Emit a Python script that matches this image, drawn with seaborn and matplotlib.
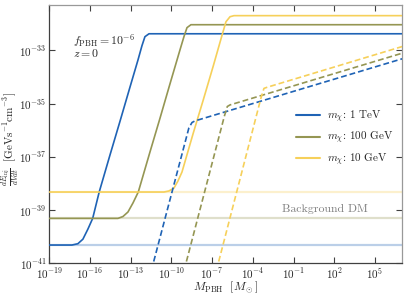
import numpy as np
import pandas as pd
import matplotlib
matplotlib.use("Agg")
import matplotlib.pyplot as plt
from matplotlib.lines import Line2D
import seaborn as sns

# ---------------- data (log10 values) ----------------
labels = [r"$m_\chi$: 1 TeV", r"$m_\chi$: 100 GeV", r"$m_\chi$: 10 GeV"]
colors = ["#1f63b5", "#959653", "#f6d05a"]

# background DM injection level per mass (log10 GeV s^-1 cm^-3)
bg_log = [-40.31, -39.31, -38.32]

# solid curves
blue_solid_logM = [-19.0, -17.33, -16.89, -16.52, -16.15, -15.80, -15.32, -14.53,
                   -13.79, -13.05, -12.46, -12.17, -11.95, -11.65, 7.0]
blue_solid_logE = [-40.31, -40.31, -40.26, -40.09, -39.71, -39.31, -38.32, -36.94,
                   -35.67, -34.38, -33.36, -32.83, -32.49, -32.38, -32.38]

olive_solid_logM = [-19.0, -13.94, -13.57, -13.20, -12.83, -12.44, -11.58, -10.84,
                    -10.11, -9.37, -9.07, -8.85, -8.56, 7.0]
olive_solid_logE = [-39.31, -39.31, -39.24, -39.07, -38.73, -38.32, -36.82, -35.55,
                    -34.27, -32.99, -32.48, -32.15, -32.04, -32.04]

yellow_solid_logM = [-19.0, -10.55, -10.18, -9.81, -9.52, -9.22, -8.39, -7.65,
                     -6.91, -6.30, -5.98, -5.68, -5.39, 7.0]
yellow_solid_logE = [-38.32, -38.32, -38.28, -38.17, -37.91, -37.57, -36.11, -34.86,
                     -33.58, -32.49, -31.93, -31.74, -31.70, -31.70]

# dashed curves
blue_dash_logM = [-11.46, -11.34, -8.71, -8.48, -8.26, 7.0]
blue_dash_logE = [-41.25, -41.0, -35.91, -35.71, -35.65, -33.32]

olive_dash_logM = [-9.06, -8.93, -6.09, -5.88, -5.68, 7.0]
olive_dash_logE = [-41.25, -41.0, -35.46, -35.11, -35.05, -33.11]

yellow_dash_logM = [-6.68, -6.55, -3.40, -3.18, -2.96, 7.0]
yellow_dash_logE = [-41.25, -41.0, -34.79, -34.43, -34.39, -32.86]

xtick_exps = [-19, -16, -13, -10, -7, -4, -1, 2, 5]
ytick_exps = [-41, -39, -37, -35, -33]

# ---------------- style ----------------
sns.set_theme(style="ticks")
plt.rcParams["font.family"] = ["cmr10", "DejaVu Serif"]
plt.rcParams["mathtext.fontset"] = "cm"
plt.rcParams["axes.formatter.use_mathtext"] = True
plt.rcParams["axes.unicode_minus"] = False

fig = plt.figure(figsize=(4.07, 2.94), dpi=100)
ax = fig.add_axes([0.121, 0.104, 0.867, 0.879])

solids = [(blue_solid_logM, blue_solid_logE),
          (olive_solid_logM, olive_solid_logE),
          (yellow_solid_logM, yellow_solid_logE)]
dashes = [(blue_dash_logM, blue_dash_logE),
          (olive_dash_logM, olive_dash_logE),
          (yellow_dash_logM, yellow_dash_logE)]

# background DM lines (faded, full width)
for b, c in zip(bg_log, colors):
    ax.axhline(10.0 ** b, color=c, alpha=0.3, lw=1.6, zorder=1)

for (lm, le), c in zip(solids, colors):
    df = pd.DataFrame({"M": 10.0 ** np.array(lm), "E": 10.0 ** np.array(le)})
    sns.lineplot(data=df, x="M", y="E", ax=ax, color=c, lw=1.2, sort=False,
                 estimator=None, zorder=3)

for (lm, le), c in zip(dashes, colors):
    df = pd.DataFrame({"M": 10.0 ** np.array(lm), "E": 10.0 ** np.array(le)})
    sns.lineplot(data=df, x="M", y="E", ax=ax, color=c, lw=1.2, sort=False,
                 estimator=None, linestyle=(0, (3.5, 1.8)), zorder=3)

ax.set_xscale("log")
ax.set_yscale("log")
ax.set_xlim(1e-19, 1e7)
ax.set_ylim(1e-41, 10 ** -31.3)

ax.set_xticks([10.0 ** e for e in xtick_exps])
ax.set_xticklabels([r"$10^{%d}$" % e for e in xtick_exps])
ax.set_yticks([10.0 ** e for e in ytick_exps])
ax.set_yticklabels([r"$10^{%d}$" % e for e in ytick_exps])
ax.minorticks_off()
ax.tick_params(which="both", direction="in", top=True, right=True,
               length=4, width=0.8, labelsize=8, pad=2, color="0.25")

for s in ["left", "bottom"]:
    ax.spines[s].set_color("0.25")
    ax.spines[s].set_linewidth(0.9)
for s in ["top", "right"]:
    ax.spines[s].set_color("0.6")
    ax.spines[s].set_linewidth(0.9)

ax.set_xlabel(r"$M_{\rm PBH}\ \ [M_\odot]$", fontsize=8.5)
ax.set_ylabel(r"$\frac{dE_{\rm inj}}{dVdt}\ \ [\mathrm{GeV s^{-1}cm^{-3}}]$",
              fontsize=8)
ax.xaxis.set_label_coords(0.5, -0.093)
ax.yaxis.set_label_coords(-0.111, 0.48)
ax.xaxis.label.set_va("center")
ax.yaxis.label.set_va("center")

ax.text(0.067, 0.864, r"$f_{\rm PBH} = 10^{-6}$", transform=ax.transAxes,
        fontsize=8.5, ha="left", va="center", color="0.15")
ax.text(0.067, 0.814, r"$z = 0$", transform=ax.transAxes,
        fontsize=8.5, ha="left", va="center", color="0.15")
ax.text(0.782, 0.21, "Background DM", transform=ax.transAxes,
        fontsize=8.5, ha="center", va="center", color="0.5")

handles = [Line2D([0], [0], color=c, lw=1.5) for c in colors]
ax.legend(handles, labels, loc="upper left", bbox_to_anchor=(0.70, 0.60),
          frameon=False, fontsize=8, handlelength=2.1, handletextpad=0.7,
          labelspacing=0.45, borderpad=0, borderaxespad=0)

fig.savefig("out.png", dpi=100)
